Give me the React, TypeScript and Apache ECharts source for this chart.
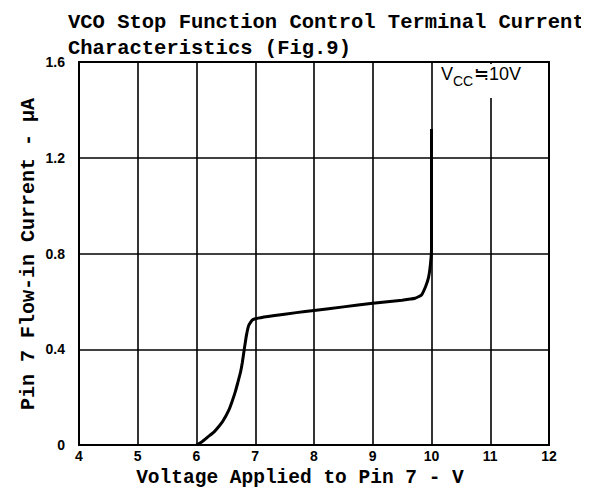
import React, { useEffect, useRef } from "react";
import * as echarts from "echarts";

const titleLines = ["VCO Stop Function Control Terminal Current", "Characteristics (Fig.9)"];
const xAxisName = "Voltage Applied to Pin 7 - V";
const yAxisName = "Pin 7 Flow-in Current - µA";
const xTicks = [4, 5, 6, 7, 8, 9, 10, 11, 12];
const yTicks = [0, 0.4, 0.8, 1.2, 1.6];
const voltage = [6.0, 6.1, 6.2, 6.3, 6.38, 6.45, 6.55, 6.6, 6.66, 6.7, 6.75, 6.78, 6.81, 6.85, 6.89, 6.95, 7.05, 7.3, 7.7, 8.0, 8.5, 9.0, 9.5, 9.72, 9.83, 9.9, 9.95, 9.98, 10.0, 10.0, 10.0];
const current = [0, 0.015, 0.035, 0.055, 0.077, 0.1, 0.146, 0.178, 0.222, 0.258, 0.305, 0.345, 0.395, 0.458, 0.5, 0.522, 0.53, 0.54, 0.553, 0.562, 0.577, 0.592, 0.605, 0.613, 0.627, 0.662, 0.7, 0.75, 0.82, 1.05, 1.32];

const MONO = "'Liberation Mono', 'DejaVu Sans Mono', monospace";
const SANS = "'Liberation Sans', Arial, sans-serif";

export default function App() {
  const ref = useRef<HTMLDivElement>(null);
  useEffect(() => {
    if (!ref.current) return;
    const chart = echarts.init(ref.current, null, { renderer: "svg" });
    const data = voltage.map((v, i) => [v, current[i]]);
    chart.setOption({
      animation: false,
      backgroundColor: "#ffffff",
      grid: { left: 71, top: 54, width: 470, height: 383, show: true, borderColor: "#000", borderWidth: 2 },
      xAxis: {
        type: "value",
        min: xTicks[0],
        max: xTicks[xTicks.length - 1],
        interval: 1,
        axisLine: { show: true, lineStyle: { color: "#000", width: 2 } },
        axisTick: { show: false },
        axisLabel: { color: "#000", fontFamily: SANS, fontWeight: "bold", fontSize: 14, margin: 3, lineHeight: 15 },
        splitLine: { show: true, lineStyle: { color: "#000", width: 1.6 } },
      },
      yAxis: {
        type: "value",
        min: yTicks[0],
        max: yTicks[yTicks.length - 1],
        interval: 0.4,
        axisLine: { show: true, lineStyle: { color: "#000", width: 2 } },
        axisTick: { show: false },
        axisLabel: { color: "#000", fontFamily: SANS, fontWeight: "bold", fontSize: 14, margin: 14 },
        splitLine: { show: true, lineStyle: { color: "#000", width: 1.6 } },
      },
      series: [
        {
          type: "line",
          data,
          showSymbol: false,
          smooth: 0.15,
          lineStyle: { color: "#000", width: 3 },
        },
      ],
      graphic: [
        {
          type: "text",
          left: 60,
          top: 4,
          style: { text: titleLines[0], font: `bold 20.5px ${MONO}`, fill: "#000" },
        },
        {
          type: "text",
          left: 60,
          top: 30,
          style: { text: titleLines[1], font: `bold 20.5px ${MONO}`, fill: "#000" },
        },
        {
          type: "text",
          x: 20,
          y: 246,
          rotation: Math.PI / 2,
          style: { text: yAxisName, font: `bold 20px ${MONO}`, fill: "#000", align: "center", verticalAlign: "middle" },
        },
        {
          type: "text",
          x: 292,
          y: 470,
          style: { text: xAxisName, font: `bold 19.5px ${MONO}`, fill: "#000", align: "center", verticalAlign: "middle", lineHeight: 20 },
        },
        {
          type: "rect",
          shape: { x: 428, y: 56, width: 110, height: 34 },
          style: { fill: "#fff" },
          z: 50,
        },
        {
          type: "text",
          x: 433,
          y: 57,
          z: 60,
          style: { text: "V", font: `18px ${SANS}`, fill: "#000" },
        },
        {
          type: "text",
          x: 445,
          y: 66,
          z: 60,
          style: { text: "CC", font: `14px ${SANS}`, fill: "#000" },
        },
        {
          type: "text",
          x: 466,
          y: 57,
          z: 60,
          style: { text: "≒10V", font: `18px ${SANS}`, fill: "#000" },
        },
      ],
    });
    return () => chart.dispose();
  }, []);
  return <div ref={ref} style={{ width: 589, height: 489 }} />;
}
